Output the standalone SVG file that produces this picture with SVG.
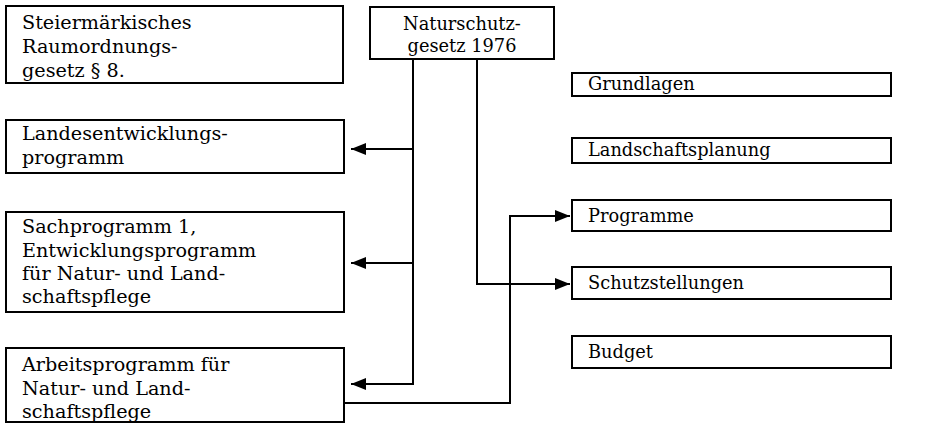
<svg xmlns="http://www.w3.org/2000/svg" width="928" height="424" viewBox="0 0 928 424">
<style>
.box{fill:#fff;stroke:#000;stroke-width:2}
.t{font-family:"DejaVu Serif","Liberation Serif",serif;font-size:19.2px;fill:#000}
.s{font-size:17.8px}
.c{fill:none;stroke:#000;stroke-width:2}
</style>
<defs>
<marker id="ah" markerUnits="userSpaceOnUse" markerWidth="16" markerHeight="12" refX="15" refY="6" orient="auto">
<path d="M0,0 L15,6 L0,12 Z" fill="#000"/>
</marker>
</defs>
<rect width="928" height="424" fill="#fff"/>
<g id="connectors">
<path class="c" d="M413,59 V384 H351" marker-end="url(#ah)"/>
<path class="c" d="M413,149 H351" marker-end="url(#ah)"/>
<path class="c" d="M413,263 H351" marker-end="url(#ah)"/>
<path class="c" d="M477,59 V284 H570" marker-end="url(#ah)"/>
<path class="c" d="M344,403 H510 V216 H570" marker-end="url(#ah)"/>
</g>
<g id="n-steiermark">
<rect class="box" x="6" y="6" width="337" height="77"/>
<text class="t" x="22" y="29">Steiermärkisches</text>
<text class="t" x="22" y="53">Raumordnungs-</text>
<text class="t" x="22" y="77">gesetz § 8.</text>
</g>
<g id="n-naturschutz">
<rect class="box" x="370" y="7" width="184" height="52"/>
<text class="t s" x="462" y="30" text-anchor="middle">Naturschutz-</text>
<text class="t s" x="462" y="52" text-anchor="middle">gesetz 1976</text>
</g>
<g id="n-landesentwicklung">
<rect class="box" x="6" y="120" width="338" height="53"/>
<text class="t" x="22" y="140">Landesentwicklungs-</text>
<text class="t" x="22" y="164">programm</text>
</g>
<g id="n-sachprogramm">
<rect class="box" x="6" y="212" width="338" height="100"/>
<text class="t" x="22" y="233">Sachprogramm 1,</text>
<text class="t" x="22" y="257">Entwicklungsprogramm</text>
<text class="t" x="22" y="280">für Natur- und Land-</text>
<text class="t" x="22" y="303">schaftspflege</text>
</g>
<g id="n-arbeitsprogramm">
<rect class="box" x="6" y="348" width="338" height="74"/>
<text class="t" x="22" y="371">Arbeitsprogramm für</text>
<text class="t" x="22" y="395">Natur- und Land-</text>
<text class="t" x="22" y="418">schaftspflege</text>
</g>
<g id="n-grundlagen">
<rect class="box" x="572" y="73" width="319" height="23"/>
<text class="t s" x="588" y="90">Grundlagen</text>
</g>
<g id="n-landschaftsplanung">
<rect class="box" x="572" y="138" width="319" height="25"/>
<text class="t s" x="588" y="156">Landschaftsplanung</text>
</g>
<g id="n-programme">
<rect class="box" x="572" y="200" width="319" height="31"/>
<text class="t s" x="588" y="222">Programme</text>
</g>
<g id="n-schutzstellungen">
<rect class="box" x="572" y="267" width="319" height="32"/>
<text class="t s" x="588" y="289">Schutzstellungen</text>
</g>
<g id="n-budget">
<rect class="box" x="572" y="336" width="319" height="32"/>
<text class="t s" x="588" y="358">Budget</text>
</g>
</svg>
